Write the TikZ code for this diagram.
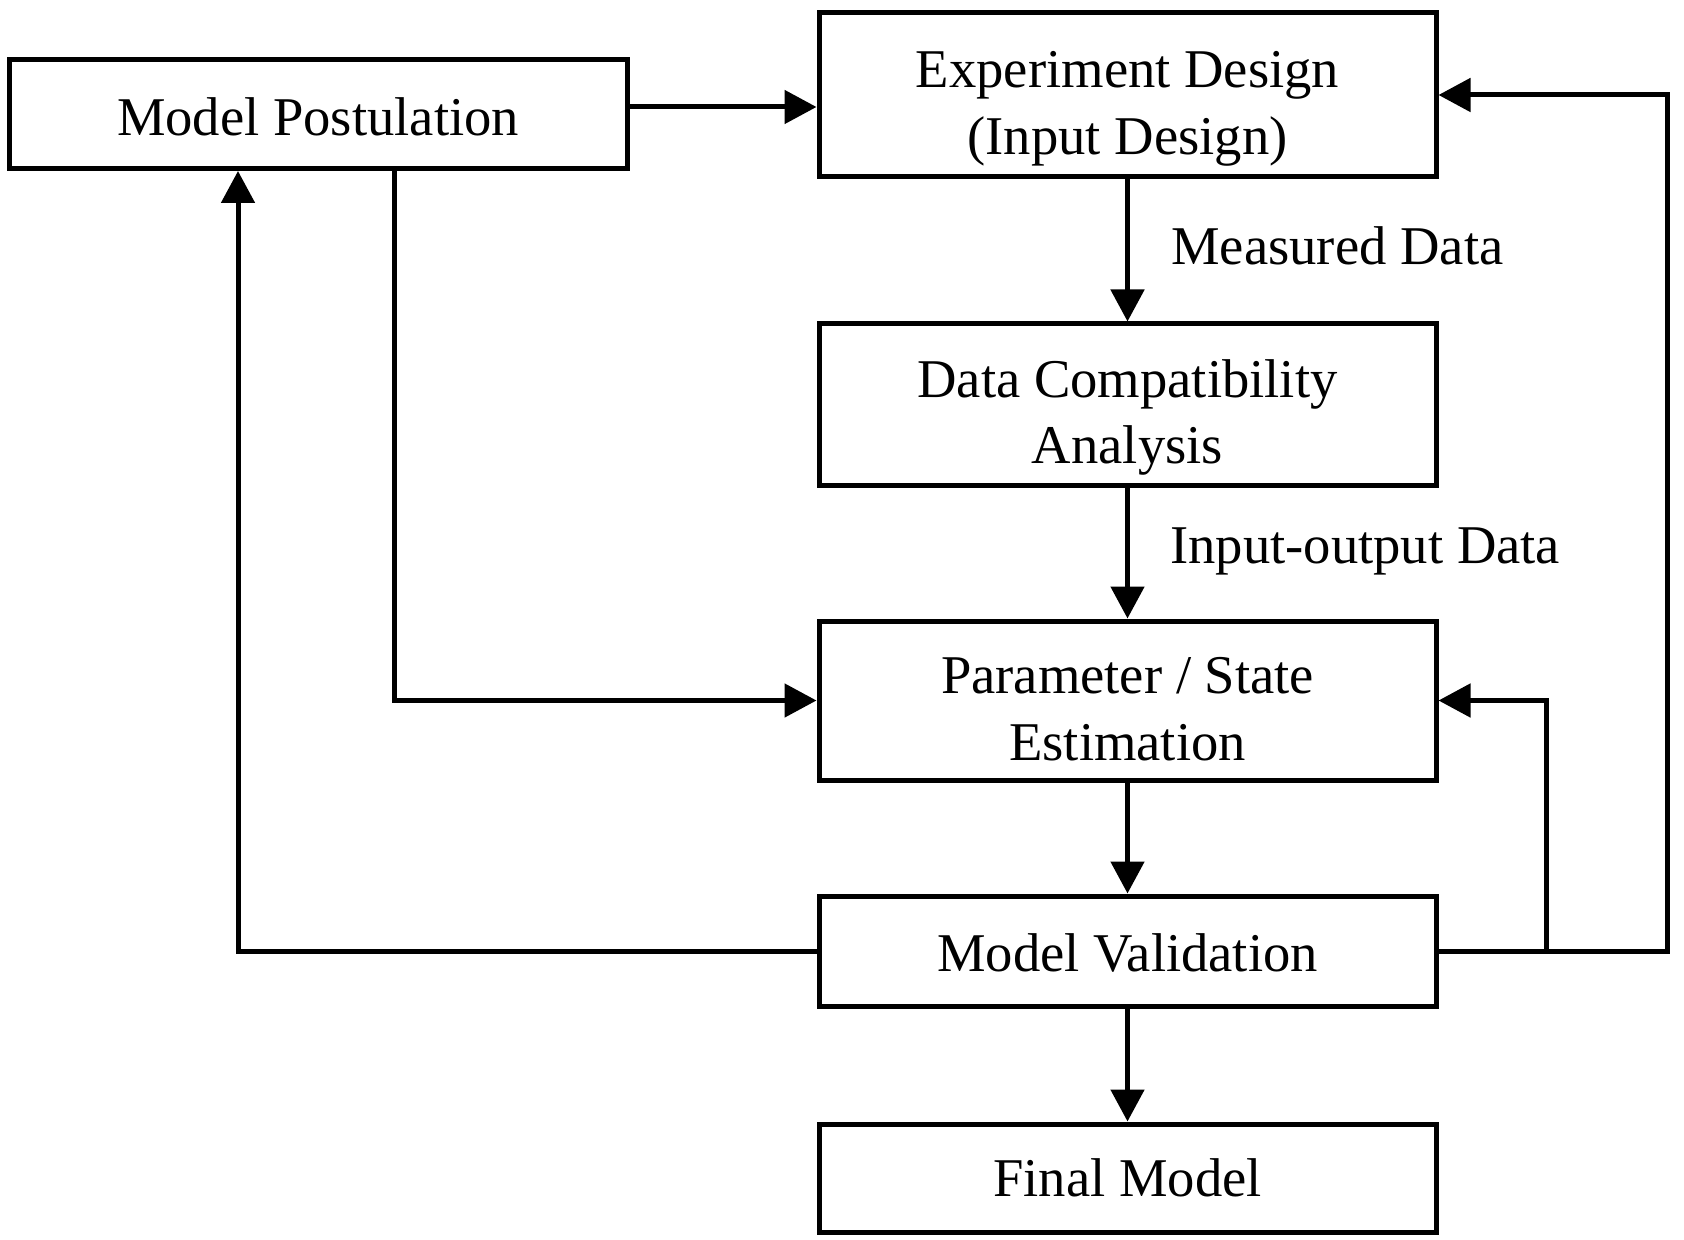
\documentclass[tikz,border=0pt]{standalone}
\usepackage{fontspec}
\setmainfont{Liberation Serif}
\usetikzlibrary{arrows.meta,calc}
\begin{document}
\begin{tikzpicture}[x=0.5pt,y=-0.5pt,
  every node/.style={font=\fontsize{27.3pt}{33.3pt}\selectfont},
  box/.style={draw,line width=2.5pt,rectangle,minimum width=308.5pt,align=center,inner sep=0pt},
  twoline/.style={text height=59.5pt,text depth=0pt},
  lbl/.style={anchor=base west,inner sep=0pt},
  arr/.style={line width=2.5pt,-{Triangle[length=16pt,width=16.5pt]}},
  conn/.style={line width=2.5pt}]
\useasboundingbox (0,0) rectangle (1684,1240);
\node[box,minimum width=309pt,minimum height=54.5pt,text height=21.6pt,text depth=0pt] (mp) at (318,114) {Model Postulation};
\node[box,twoline,minimum height=82pt] (ed) at (1127.5,95) {Experiment Design\\(Input Design)};
\node[box,twoline,minimum height=80.5pt] (dca) at (1127.5,404.5) {Data Compatibility\\Analysis};
\node[box,twoline,minimum height=79.5pt] (pse) at (1127.5,700.5) {Parameter / State\\Estimation};
\node[box,minimum height=55pt,text height=20.6pt,text depth=0pt] (mv) at (1127.5,951) {Model Validation};
\node[box,minimum height=54pt] (fm) at (1127.5,1178) {Final Model};
\node[lbl] (md) at (1171,265) {Measured Data};
\node[lbl] (iod) at (1170,563) {Input-output Data};
\coordinate (mpo) at ([yshift=3.5pt]mp.east);
\coordinate (rt) at (1667,95);
\coordinate (br) at ($(mv.east)+(108,0)$);
\draw[arr] (mpo) -- (mpo -| ed.west);
\draw[arr] (ed.south) -- (dca.north);
\draw[arr] (dca.south) -- (pse.north);
\draw[arr] (pse.south) -- (mv.north);
\draw[arr] (mv.south) -- (fm.north);
\draw[arr] ([xshift=38pt]mp.south) |- (pse.west);
\draw[arr] (mv.west) -| ([xshift=-40pt]mp.south);
\draw[arr] (mv.east) -| (rt) -- (ed.east);
\draw[arr] (br) |- (pse.east);
\end{tikzpicture}
\end{document}
